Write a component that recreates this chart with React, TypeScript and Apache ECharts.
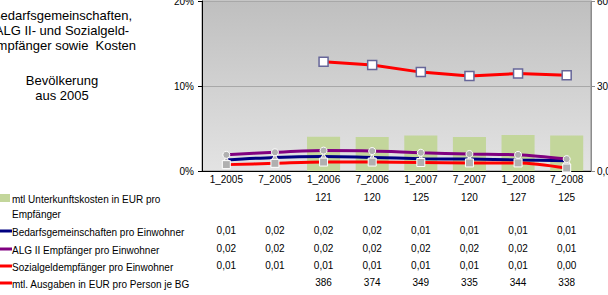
import React, { useEffect, useRef } from "react";
import * as echarts from "echarts";

const categories = ["1_2005", "7_2005", "1_2006", "7_2006", "1_2007", "7_2007", "1_2008", "7_2008"];
const unterkunft = [null, null, 121, 120, 125, 120, 127, 125];
const bgProEinw = [1.3, 1.6, 1.7, 1.6, 1.45, 1.4, 1.3, 1.2];
const algProEinw = [1.9, 2.2, 2.4, 2.35, 2.15, 2.0, 1.9, 1.4];
const sozProEinw = [0.75, 0.9, 1.05, 1.05, 1.0, 0.95, 0.95, 0.35];
const ausgaben = [null, null, 386, 374, 349, 335, 344, 338];

const leftTicks = [0, 10, 20];
const rightTicks = [0, 300, 600];

const titleLines = ["Bedarfsgemeinschaften,", "ALG II- und Sozialgeld-", "Empfänger sowie  Kosten"];
const subLines = ["Bevölkerung", "aus 2005"];

const legendNames = [
  "mtl Unterkunftskosten in EUR pro\nEmpfänger",
  "Bedarfsgemeinschaften pro Einwohner",
  "ALG II Empfänger pro Einwohner",
  "Sozialgeldempfänger pro Einwohner",
  "mtl. Ausgaben in EUR pro Person je BG",
];

const FONT = "'Liberation Sans', Arial, sans-serif";

export default function App() {
  const ref = useRef<HTMLDivElement>(null);
  useEffect(() => {
    const chart = echarts.init(ref.current!, null, { renderer: "svg" });
    const fmtPct = (v: number | null) => (v == null ? "" : (v / 100).toFixed(2).replace(".", ","));
    const fmtInt = (v: number | null) => (v == null ? "" : String(v));
    const option: any = {
      animation: false,
      textStyle: { fontFamily: FONT },
      grid: {
        left: 202, right: 17, top: 1, bottom: 124, show: true,
        outerBoundsMode: "none", containLabel: false,
        borderColor: "#8c8c8c", borderWidth: 1,
        backgroundColor: new echarts.graphic.LinearGradient(0, 0, 0, 1, [
          { offset: 0, color: "#bfbfbf" },
          { offset: 1, color: "#e3e3e3" },
        ]),
      },
      xAxis: {
        type: "category", data: categories,
        axisLine: { lineStyle: { color: "#000", width: 1 } },
        axisTick: { show: false },
        axisLabel: { color: "#000", fontSize: 10, margin: 3, fontFamily: FONT },
      },
      yAxis: [
        {
          type: "value", min: leftTicks[0], max: leftTicks[2], interval: 10,
          axisLine: { show: true, lineStyle: { color: "#000" } },
          axisTick: { show: true, length: 4, lineStyle: { color: "#000" } },
          axisLabel: { color: "#000", fontSize: 10, formatter: (v: number) => v + "%", margin: 8, fontFamily: FONT },
          splitLine: { show: true, lineStyle: { color: "#a8a8a8", width: 1 } },
        },
        {
          type: "value", min: rightTicks[0], max: rightTicks[2], interval: 300,
          axisLine: { show: true, lineStyle: { color: "#8c8c8c" } },
          axisTick: { show: true, length: 4, lineStyle: { color: "#8c8c8c" } },
          axisLabel: { color: "#000", fontSize: 10, margin: 6, fontFamily: FONT,
            formatter: (v: number) => v.toFixed(2).replace(".", ",") },
          splitLine: { show: false },
        },
      ],
      series: [
        {
          name: "unterkunft", type: "bar", yAxisIndex: 1, data: unterkunft, barWidth: "68%",
          itemStyle: { color: "#c3d69b" }, z: 1,
        },
        {
          name: "bg", type: "line", data: bgProEinw, smooth: 0.3, lineStyle: { color: "#000080", width: 3 },
          symbol: "triangle", symbolSize: 7, itemStyle: { color: "#b0b0b0", borderColor: "#fff", borderWidth: 1 }, z: 3,
        },
        {
          name: "alg", type: "line", data: algProEinw, smooth: 0.3, lineStyle: { color: "#800080", width: 3 },
          symbol: "circle", symbolSize: 7, itemStyle: { color: "#b0b0b0", borderColor: "#fff", borderWidth: 1 }, z: 3,
        },
        {
          name: "soz", type: "line", data: sozProEinw, smooth: 0.3, lineStyle: { color: "#ff0000", width: 3 },
          symbol: "rect", symbolSize: 8, itemStyle: { color: "#b0b0b0", borderColor: "#fff", borderWidth: 1 }, z: 3,
        },
        {
          name: "ausgaben", type: "line", yAxisIndex: 1, data: ausgaben, lineStyle: { color: "#ff0000", width: 3 },
          symbol: "rect", symbolSize: 9, itemStyle: { color: "#fff", borderColor: "#666699", borderWidth: 1.5 }, z: 4,
        },
      ],
    };
    chart.setOption(option);

    const elements: any[] = [];
    titleLines.forEach((t, i) =>
      elements.push({ type: "text", x: 62, y: 15 + i * 15, style: { text: t, fill: "#000", font: `13px ${FONT}`, textAlign: "center", textVerticalAlign: "middle" } })
    );
    subLines.forEach((t, i) =>
      elements.push({ type: "text", x: 62, y: 80 + i * 15.5, style: { text: t, fill: "#000", font: `13px ${FONT}`, textAlign: "center", textVerticalAlign: "middle" } })
    );
    const rowY = [198, 231, 249, 266, 283];
    const keyColors = ["#c3d69b", "#000080", "#800080", "#ff0000", "#ff0000"];
    legendNames.forEach((n, i) => {
      if (i === 0) {
        elements.push({ type: "rect", shape: { x: 0, y: rowY[i] - 4, width: 10, height: 8 }, style: { fill: keyColors[i] } });
      } else {
        elements.push({ type: "line", shape: { x1: 0, y1: rowY[i], x2: 12, y2: rowY[i] }, style: { stroke: keyColors[i], lineWidth: 3 } });
      }
      elements.push({ type: "text", x: 12, y: rowY[i] - 6, style: { text: n, fill: "#000", font: `10px ${FONT}`, lineHeight: 15 } });
    });
    const rows: [any[], (v: any) => string][] = [
      [unterkunft, fmtInt], [bgProEinw, fmtPct], [algProEinw, fmtPct], [sozProEinw, fmtPct], [ausgaben, fmtInt],
    ];
    rows.forEach(([arr, f], r) => {
      arr.forEach((v: any, i: number) => {
        const x = chart.convertToPixel({ xAxisIndex: 0 }, categories[i]) as number;
        elements.push({ type: "text", x, y: rowY[r] - 6, style: { text: f(v), fill: "#000", font: `10px ${FONT}`, textAlign: "center" } });
      });
    });
    chart.setOption({ graphic: { elements } });
    return () => chart.dispose();
  }, []);
  return <div ref={ref} style={{ width: 608, height: 295, position: "absolute", left: 0, top: 0 }} />;
}
